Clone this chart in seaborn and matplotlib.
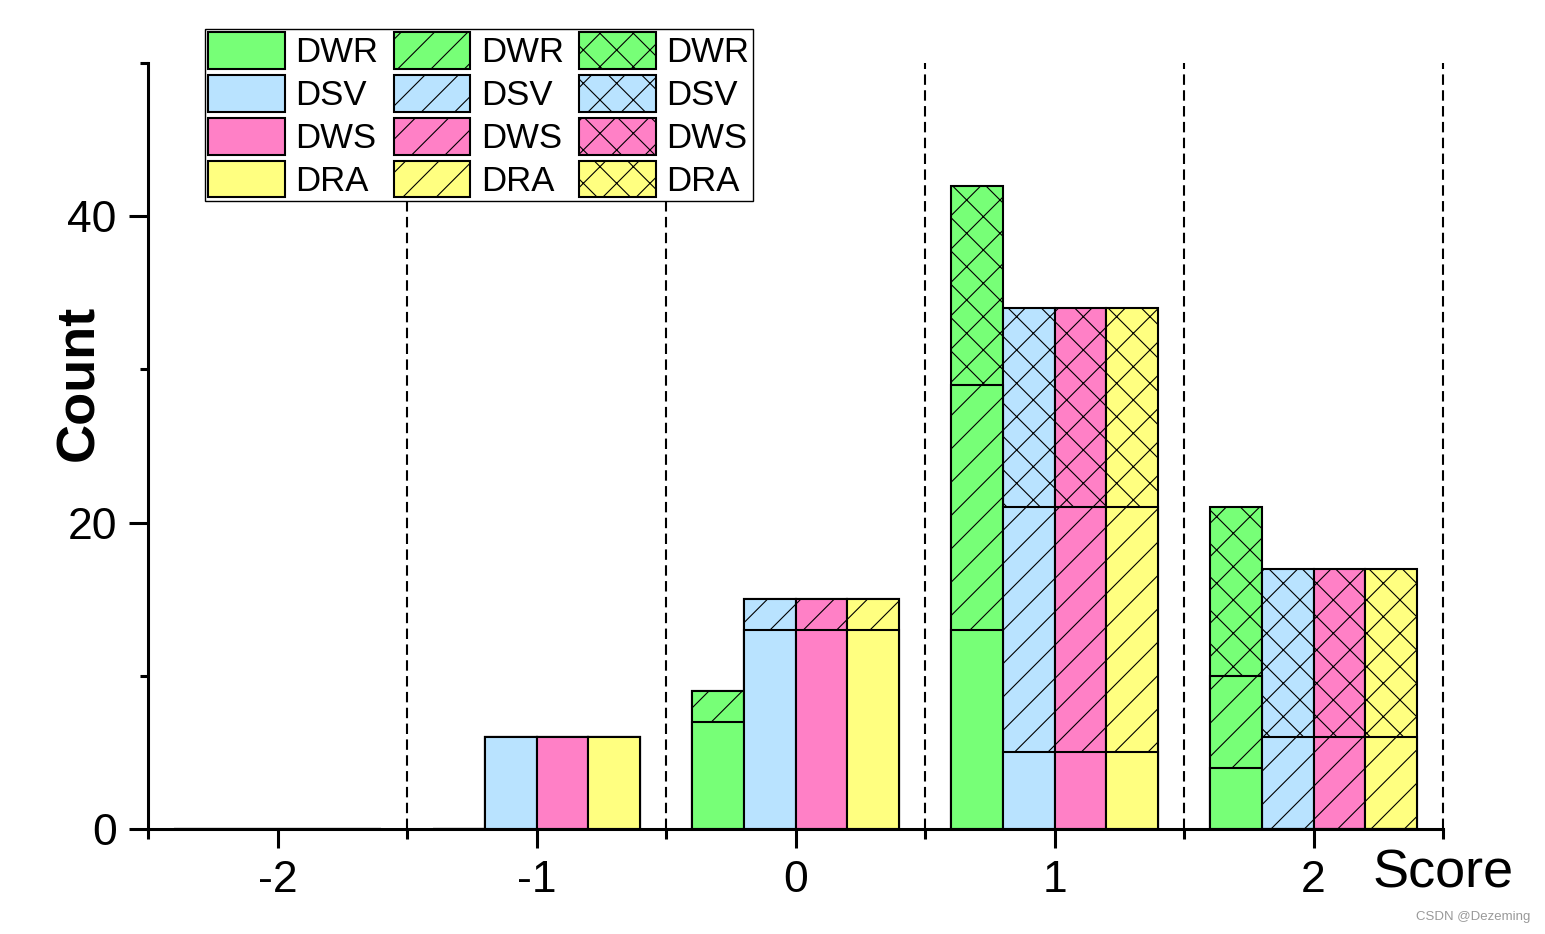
import numpy as np
import pandas as pd
import matplotlib
matplotlib.use("Agg")
import matplotlib.pyplot as plt
import seaborn as sns
from matplotlib.patches import Patch
from matplotlib.ticker import MultipleLocator, FixedLocator

# ---------------- data ----------------
scores = [-2, -1, 0, 1, 2]
groups = ["DWR", "DSV", "DWS", "DRA"]

DWR_solid = [0, 0, 7, 13, 4]
DWR_hatch = [0, 0, 2, 16, 6]
DWR_cross = [0, 0, 0, 13, 11]

DSV_solid = [0, 6, 13, 5, 0]
DSV_hatch = [0, 0, 2, 16, 6]
DSV_cross = [0, 0, 0, 13, 11]

DWS_solid = [0, 6, 13, 5, 0]
DWS_hatch = [0, 0, 2, 16, 6]
DWS_cross = [0, 0, 0, 13, 11]

DRA_solid = [0, 6, 13, 5, 0]
DRA_hatch = [0, 0, 2, 16, 6]
DRA_cross = [0, 0, 0, 13, 11]

colors = ["#77FF77", "#B9E3FF", "#FF80C6", "#FFFF80"]
yticks_major = [0, 20, 40]

# ---------------- build long table ----------------
layers = {
    "DWR": (DWR_solid, DWR_hatch, DWR_cross),
    "DSV": (DSV_solid, DSV_hatch, DSV_cross),
    "DWS": (DWS_solid, DWS_hatch, DWS_cross),
    "DRA": (DRA_solid, DRA_hatch, DRA_cross),
}
rows = []
for g in groups:
    s, h, c = layers[g]
    for i, x in enumerate(scores):
        rows.append({"Score": x, "Group": g,
                     "solid": s[i],
                     "mid": s[i] + h[i],
                     "total": s[i] + h[i] + c[i]})
df = pd.DataFrame(rows)

# ---------------- style ----------------
sns.set_style("ticks")
plt.rcParams["font.family"] = ["Liberation Sans", "DejaVu Sans"]
plt.rcParams["hatch.linewidth"] = 0.8
plt.rcParams["hatch.color"] = "black"
plt.rcParams["text.color"] = "black"
plt.rcParams["axes.labelcolor"] = "black"
plt.rcParams["xtick.color"] = "black"
plt.rcParams["ytick.color"] = "black"

fig = plt.figure(figsize=(15.45, 9.34), dpi=100)
ax = fig.add_axes([0.0958, 0.1124, 0.934 - 0.0958, 0.9325 - 0.1124])

palette = dict(zip(groups, colors))
common = dict(x="Score", hue="Group", hue_order=groups, palette=palette,
              native_scale=True, errorbar=None, saturation=1, width=0.8,
              edgecolor="black", linewidth=1.5, legend=False, ax=ax)

sns.barplot(data=df, y="total", hatch="x", **common)
sns.barplot(data=df, y="mid", hatch="/", **common)
sns.barplot(data=df, y="solid", **common)

# dashed separators
for xv in [-1.5, -0.5, 0.5, 1.5, 2.5]:
    ax.axvline(xv, color="black", lw=1.5, linestyle=(0, (5, 2.6)),
               zorder=0.5, clip_on=False)

ax.set_xlim(-2.5, 2.5)
ax.set_ylim(0, 50)
ax.xaxis.set_major_locator(FixedLocator(scores))
ax.set_xticklabels([str(s) for s in scores])
ax.xaxis.set_minor_locator(FixedLocator([-2.5, -1.5, -0.5, 0.5, 1.5, 2.5]))
ax.yaxis.set_major_locator(FixedLocator(yticks_major))
ax.yaxis.set_minor_locator(MultipleLocator(10))

for side in ["top", "right"]:
    ax.spines[side].set_visible(False)
for side in ["left", "bottom"]:
    ax.spines[side].set_linewidth(2.2)
    ax.spines[side].set_color("black")

ax.tick_params(axis="both", which="major", length=13.5, width=2.2,
               labelsize=32, direction="out", color="black",
               labelcolor="black")
ax.tick_params(axis="x", which="major", pad=9)
ax.tick_params(axis="y", which="major", pad=9)
ax.tick_params(axis="x", which="minor", length=7.5, width=2.2, color="black")
ax.tick_params(axis="y", which="minor", length=5.5, width=2.2, color="black")

ax.set_xlabel("Score", fontsize=39, color="black")
ax.xaxis.set_label_coords(1.0, -0.025)
ax.set_ylabel("Count", fontsize=39, fontweight="bold", color="black")
ax.yaxis.set_label_coords(-0.034, 0.582)

# legend
handles = []
labels = []
for hatch in [None, "/", "x"]:
    for g in groups:
        handles.append(Patch(facecolor=palette[g], edgecolor="black",
                             linewidth=1.5, hatch=hatch))
        labels.append(g)
leg = ax.legend(handles, labels, ncol=3, loc="upper left",
                bbox_to_anchor=(205 / 1545, 1 - 29 / 934),
                bbox_transform=fig.transFigure, fontsize=25,
                frameon=True, fancybox=False, framealpha=1,
                edgecolor="black", borderpad=0.1, borderaxespad=0,
                handlelength=2.2, handleheight=1.24, handletextpad=0.3,
                columnspacing=0.45, labelspacing=0.17)
leg.get_frame().set_linewidth(1.0)
for t in leg.get_texts():
    t.set_color("black")

fig.text(1530 / 1545, 1 - 917 / 934, "CSDN @Dezeming", fontsize=9.5,
         color="#999999", ha="right", va="center")

fig.savefig("out.png", dpi=100)
